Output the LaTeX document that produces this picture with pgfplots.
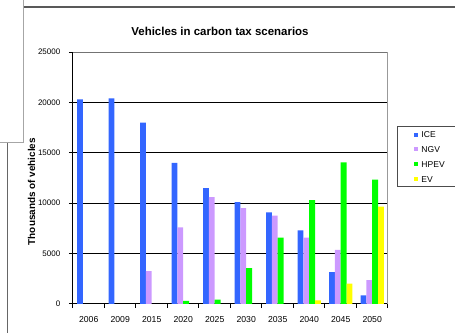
\documentclass[border=0pt]{standalone}
\usepackage{fontspec}
\setmainfont{Liberation Sans}
\usepackage{pgfplots}
\pgfplotsset{compat=1.18}

\definecolor{iceblue}{HTML}{3366FF}
\definecolor{ngvlilac}{HTML}{CC99FF}
\definecolor{hpevgreen}{HTML}{00FF00}
\definecolor{evyellow}{HTML}{FFFF00}

% small square swatch for the legend
\pgfplotsset{sqlegend/.style={legend image code/.code={\fill[##1,draw=none] (0pt,-1.5pt) rectangle (3pt,1.5pt);}}}

\begin{document}
% one unit = 0.75pt; the origin is the lower left corner of the plot area
\begin{tikzpicture}[x=0.75pt,y=0.75pt]
\useasboundingbox (-73,-29) rectangle (382,304);
\clip (-73,-29) rectangle (382,304);

% page frame lines around the chart
\draw[black!35, line width=0.75pt] (-49,304) -- (-49,161) -- (-73,161);
\draw[black!60, line width=0.75pt] (-65,161) -- (-65,-29);
\draw[black!65, line width=0.9pt] (-49,297) -- (382,297);

\node[font=\fontsize{8.6}{10}\selectfont\bfseries] at (147,273) {Vehicles in carbon tax scenarios};

\begin{axis}[
  scale only axis, width=236.25pt, height=189pt,
  ybar=0pt, bar width=4.35pt,
  xmin=-0.5, xmax=9.5, ymin=0, ymax=25000,
  xtick={0,...,9},
  xticklabels={2006,2009,2015,2020,2025,2030,2035,2040,2045,2050},
  major x tick style={draw=none},
  minor xtick={-0.5,0.5,1.5,2.5,3.5,4.5,5.5,6.5,7.5,8.5,9.5},
  ytick={0,5000,10000,15000,20000},
  extra y ticks={25000}, extra y tick style={grid=none},
  scaled y ticks=false,
  tick align=outside, major tick length=3pt, minor tick length=3pt,
  ymajorgrids, grid style={black, line width=0.75pt},
  axis x line*=bottom, axis y line*=left,
  axis line style={black, line width=0.75pt},
  tick style={black, line width=0.75pt},
  /pgf/number format/.cd, 1000 sep={}, assume math mode=true, /pgfplots/.cd,
  yticklabel style={font=\fontsize{6}{7}\selectfont, xshift=-3pt},
  xticklabel style={font=\fontsize{6.5}{7}\selectfont, yshift=-3pt},
  ylabel={Thousands of vehicles},
  ylabel style={font=\fontsize{7.45}{8}\selectfont\bfseries, at={(rel axis cs:0,0.446)}, anchor=center, yshift=31pt},
  legend cell align=left,
  legend style={at={(rel axis cs:1,0.706)}, anchor=north west, xshift=6.75pt,
    draw=black!70, line width=0.75pt, font=\fontsize{6.4}{7}\selectfont,
    inner xsep=12.75pt, inner ysep=3.5pt, row sep=6.1pt, column sep=2.25pt,
    nodes={inner sep=0pt, text height=4.8pt, text depth=0.2pt}},
]
\addplot[fill=iceblue, draw=none, sqlegend] coordinates {
  (0,20300) (1,20400) (2,18000) (3,14000) (4,11500)
  (5,10100) (6,9100) (7,7300) (8,3150) (9,860)};
\addplot[fill=ngvlilac, draw=none, sqlegend] coordinates {
  (2,3270) (3,7600) (4,10600) (5,9520) (6,8760) (7,6580) (8,5360) (9,2380)};
\addplot[fill=hpevgreen, draw=none, sqlegend] coordinates {
  (3,300) (4,430) (5,3570) (6,6580) (7,10300) (8,14060) (9,12330)};
\addplot[fill=evyellow, draw=none, sqlegend] coordinates {
  (7,370) (8,2010) (9,9650)};
\legend{ICE,NGV,HPEV,EV}
% upper and right edges of the plot area
\draw[black!55, line width=0.75pt] (rel axis cs:0,1) -- (rel axis cs:1,1);
\draw[black!40, line width=0.75pt] (rel axis cs:1,1) -- (rel axis cs:1,0);
\end{axis}
\end{tikzpicture}
\end{document}
